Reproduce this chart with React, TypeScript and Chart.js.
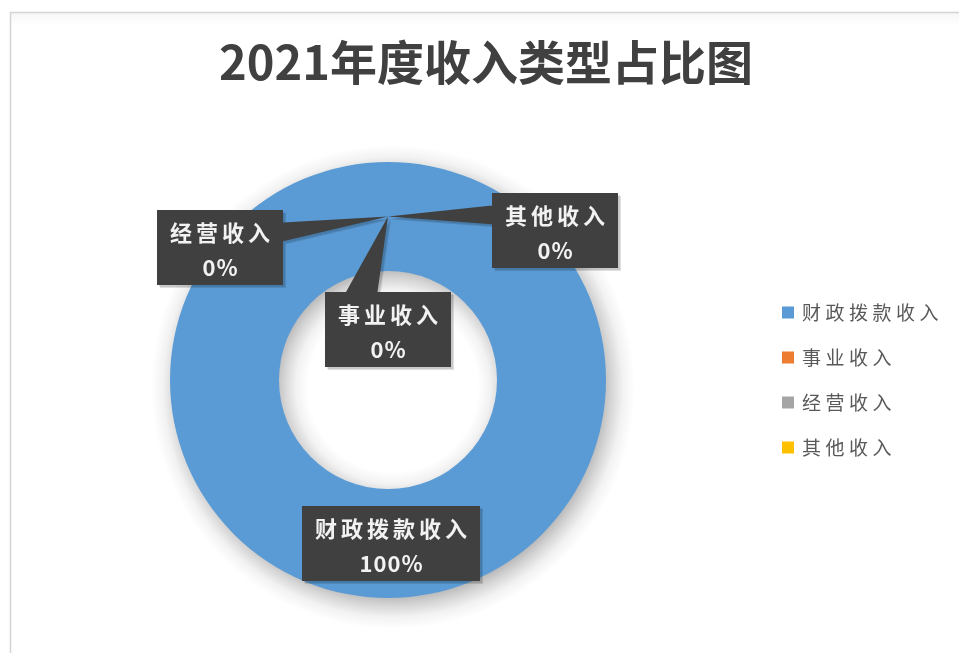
import { useEffect, useRef } from "react";
import { Chart, registerables } from "chart.js";

Chart.register(...registerables);

const titleText = "2021年度收入类型占比图";
const categories = ["财政拨款收入", "事业收入", "经营收入", "其他收入"];
const values = [100, 0, 0, 0];
const colors = ["#5B9BD5", "#ED7D31", "#A5A5A5", "#FFC000"];

// style: callout box centre offsets relative to each slice's anchor point
const calloutOffsets: number[][] = [
  [3, 0],
  [0, 113],
  [-168, 31],
  [167, 14],
];

const FONT = '"Noto Sans CJK SC", "Noto Sans", sans-serif';

function spacedWidth(ctx: CanvasRenderingContext2D, text: string, spacing: number) {
  const chars = Array.from(text);
  let w = 0;
  chars.forEach((c) => (w += ctx.measureText(c).width));
  return w + spacing * Math.max(0, chars.length - 1);
}

function drawSpaced(
  ctx: CanvasRenderingContext2D,
  text: string,
  x: number,
  y: number,
  spacing: number,
  align: "center" | "left"
) {
  const chars = Array.from(text);
  const total = spacedWidth(ctx, text, spacing);
  let cx = align === "center" ? x - total / 2 : x;
  ctx.textAlign = "left";
  chars.forEach((c) => {
    ctx.fillText(c, cx, y);
    cx += ctx.measureText(c).width + spacing;
  });
}

// soft drop shadow for the ring, derived from the arc element geometry
function drawRingShadow(ctx: CanvasRenderingContext2D, arc: any) {
  const { x, y, innerRadius, outerRadius } = arc.getProps(
    ["x", "y", "innerRadius", "outerRadius"],
    true
  );
  const ox = x + 5;
  const oy = y + 7;
  const spread = 24;
  const r0 = Math.max(0, innerRadius - spread);
  const r1 = outerRadius + spread;
  const t = (r: number) => Math.min(1, Math.max(0, (r - r0) / (r1 - r0)));
  const g = ctx.createRadialGradient(ox, oy, r0, ox, oy, r1);
  const a = 0.34;
  g.addColorStop(0, "rgba(0,0,0,0)");
  g.addColorStop(t(innerRadius - spread * 0.5), `rgba(0,0,0,${a * 0.15})`);
  g.addColorStop(t(innerRadius), `rgba(0,0,0,${a * 0.5})`);
  g.addColorStop(t(innerRadius + spread * 0.6), `rgba(0,0,0,${a})`);
  g.addColorStop(t(outerRadius - spread * 0.6), `rgba(0,0,0,${a})`);
  g.addColorStop(t(outerRadius), `rgba(0,0,0,${a * 0.5})`);
  g.addColorStop(t(outerRadius + spread * 0.5), `rgba(0,0,0,${a * 0.15})`);
  g.addColorStop(1, "rgba(0,0,0,0)");
  ctx.save();
  ctx.fillStyle = g;
  ctx.beginPath();
  ctx.arc(ox, oy, r1, 0, Math.PI * 2);
  ctx.arc(ox, oy, r0, 0, Math.PI * 2, true);
  ctx.fill("evenodd");
  ctx.restore();
}

const decorPlugin = {
  id: "decor",
  beforeDraw(chart: any) {
    const ctx: CanvasRenderingContext2D = chart.ctx;
    ctx.save();
    ctx.fillStyle = "#ffffff";
    ctx.fillRect(0, 0, chart.width, chart.height);
    const g = ctx.createLinearGradient(0, 13, 0, 26);
    g.addColorStop(0, "rgba(0,0,0,0.035)");
    g.addColorStop(1, "rgba(0,0,0,0)");
    ctx.fillStyle = g;
    ctx.fillRect(11, 13, chart.width - 11, 13);
    ctx.strokeStyle = "#d4d4d4";
    ctx.lineWidth = 1.5;
    ctx.beginPath();
    ctx.moveTo(10.5, chart.height);
    ctx.lineTo(10.5, 12.5);
    ctx.lineTo(chart.width, 12.5);
    ctx.stroke();
    ctx.fillStyle = "#404040";
    ctx.font = `bold 47px ${FONT}`;
    ctx.textBaseline = "middle";
    ctx.textAlign = "center";
    ctx.fillText(titleText, 486, 62);
    ctx.restore();
  },
  beforeDatasetsDraw(chart: any) {
    const meta = chart.getDatasetMeta(0);
    const data: number[] = chart.data.datasets[0].data;
    meta.data.forEach((arc: any, i: number) => {
      if (data[i] > 0) drawRingShadow(chart.ctx, arc);
    });
  },
  afterDraw(chart: any) {
    const ctx: CanvasRenderingContext2D = chart.ctx;
    const meta = chart.getDatasetMeta(0);
    const data: number[] = chart.data.datasets[0].data;
    const labels: string[] = chart.data.labels;
    const total = data.reduce((a, b) => a + b, 0);
    const labelFont = `bold 22px ${FONT}`;
    const pctFont = `bold 22px ${FONT}`;
    const spacing = 4;
    const padX = 13;
    const bh = 75;

    meta.data.forEach((arc: any, i: number) => {
      const p = arc.tooltipPosition(false);
      const ax = p.x;
      const ay = p.y;
      const off = calloutOffsets[i];
      const bx = ax + off[0];
      const by = ay + off[1];
      const label = labels[i];
      const pct = Math.round((data[i] / total) * 100) + "%";
      ctx.save();
      ctx.font = labelFont;
      const w1 = spacedWidth(ctx, label, spacing);
      ctx.font = pctFont;
      const w2 = spacedWidth(ctx, pct, 1);
      const bw = Math.max(w1, w2) + padX * 2;
      const left = bx - bw / 2;
      const top = by - bh / 2;
      const right = left + bw;
      const bottom = top + bh;

      const buildPath = (sx: number, sy: number) => {
        ctx.beginPath();
        ctx.rect(left + sx, top + sy, bw, bh);
        const inside = ax >= left && ax <= right && ay >= top && ay <= bottom;
        if (!inside) {
          const dxPos = ax - bx;
          const dyPos = ay - by;
          const dq = (dxPos * bh) / bw;
          const dz = Math.abs(dyPos) - Math.abs(dq);
          ctx.moveTo(ax + sx, ay + sy);
          if (dz > 0) {
            const x1 = left + (bw * (dxPos > 0 ? 7 : 2)) / 12;
            const x2 = left + (bw * (dxPos > 0 ? 10 : 5)) / 12;
            const ey = dyPos < 0 ? top : bottom;
            ctx.lineTo(x1 + sx, ey + sy);
            ctx.lineTo(x2 + sx, ey + sy);
          } else {
            const y1 = top + (bh * (dyPos > 0 ? 7 : 2)) / 12;
            const y2 = top + (bh * (dyPos > 0 ? 10 : 5)) / 12;
            const ex = dxPos < 0 ? left : right;
            ctx.lineTo(ex + sx, y1 + sy);
            ctx.lineTo(ex + sx, y2 + sy);
          }
          ctx.closePath();
        }
      };
      // soft box shadow layers
      ctx.fillStyle = "rgba(0,0,0,0.12)";
      buildPath(3, 3);
      ctx.fill("nonzero");
      ctx.fillStyle = "rgba(0,0,0,0.1)";
      buildPath(2, 2);
      ctx.fill("nonzero");
      ctx.fillStyle = "#404040";
      buildPath(0, 0);
      ctx.fill("nonzero");

      ctx.fillStyle = "#f2f2f2";
      ctx.textBaseline = "middle";
      ctx.font = labelFont;
      drawSpaced(ctx, label, bx, by - 15, spacing, "center");
      ctx.font = pctFont;
      drawSpaced(ctx, pct, bx, by + 20, 1, "center");
      ctx.restore();
    });

    const area = chart.chartArea;
    const cy = (area.top + area.bottom) / 2;
    const gap = 45;
    const n = labels.length;
    ctx.save();
    ctx.font = `19px ${FONT}`;
    ctx.textBaseline = "middle";
    labels.forEach((lab, i) => {
      const y = cy - ((n - 1) / 2) * gap + i * gap;
      ctx.fillStyle = colors[i];
      ctx.fillRect(782, y - 6, 12, 12);
      ctx.fillStyle = "#595959";
      drawSpaced(ctx, lab, 802, y, 4.5, "left");
    });
    ctx.restore();
  },
};

export default function App() {
  const ref = useRef<HTMLCanvasElement | null>(null);
  useEffect(() => {
    if (!ref.current) return;
    const chart = new Chart(ref.current, {
      type: "doughnut",
      data: {
        labels: categories,
        datasets: [
          {
            data: values,
            backgroundColor: colors,
            borderWidth: 0,
          } as any,
        ],
      },
      options: {
        responsive: false,
        animation: false,
        cutout: "50%",
        layout: { padding: { top: 162, bottom: 55, left: 170, right: 353 } },
        plugins: {
          legend: { display: false },
          title: { display: false },
          tooltip: { enabled: false },
        },
      },
      plugins: [decorPlugin],
    });
    return () => chart.destroy();
  }, []);
  return (
    <div style={{ position: "absolute", left: 0, top: 0, width: 959, height: 653, background: "#fff" }}>
      <canvas ref={ref} width={959} height={653} style={{ display: "block" }} />
    </div>
  );
}
